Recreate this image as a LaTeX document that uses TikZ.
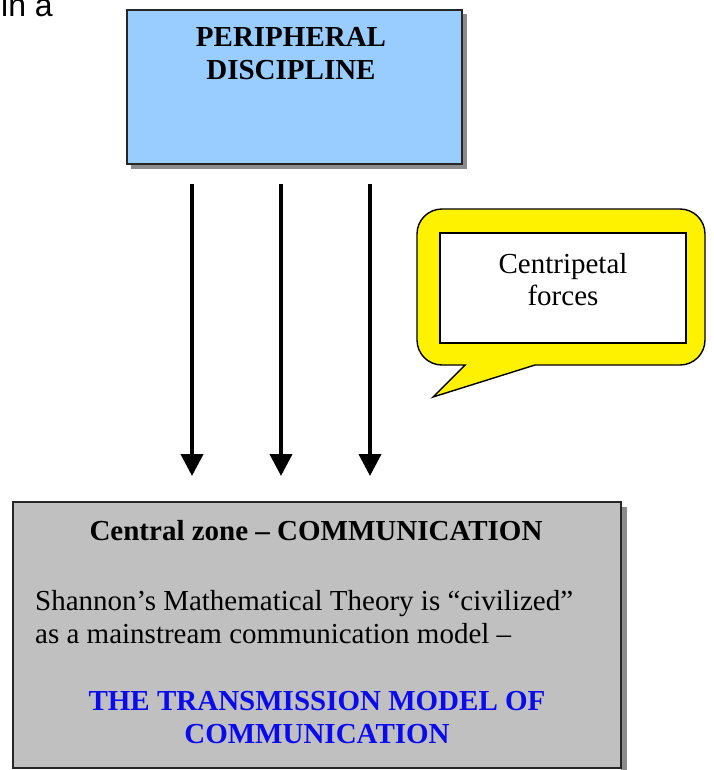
\documentclass[tikz,border=0pt]{standalone}
\usepackage{fontspec}
\setmainfont{Liberation Serif}
\newfontfamily\labelsans{Liberation Sans}
\usetikzlibrary{arrows.meta}

\definecolor{periphblue}{HTML}{99CCFF}
\definecolor{zonegray}{HTML}{C0C0C0}
\definecolor{shadegray}{HTML}{8C8C8C}
\definecolor{modelblue}{HTML}{0A0AF0}

\begin{document}
\begin{tikzpicture}[x=1pt,y=1pt,
  panel/.style={draw=black!85, line width=1.8pt, inner sep=0pt},
  shade/.style={fill=shadegray, draw=none},
  line/.style={anchor=base, inner sep=0pt, font=\fontsize{29}{34}\selectfont},
  boldline/.style={line, font=\fontsize{29}{34}\selectfont\bfseries},
  force/.style={line width=4pt, -{Triangle[width=22pt,length=22pt]}},
  bubble/.style={fill=yellow, draw=black, line width=1.4pt}]
\useasboundingbox (0,0) rectangle (713,-770);

% partial caption at the top left
\node[anchor=base west, inner sep=0pt, font=\labelsans\fontsize{32}{36}\selectfont] (cap) at (1,-17) {in a};

% peripheral discipline box
\fill[shade] (131,-14) rectangle (467,-169);
\node[panel, fill=periphblue, minimum width=335pt, minimum height=154pt] (periph) at (294.5,-87) {};
\node[boldline] (periphA) at (291,-47) {PERIPHERAL};
\node[boldline] (periphB) at (291,-80) {DISCIPLINE};

% centripetal arrows
\coordinate (f1s) at (192,-184);
\coordinate (f2s) at (281,-184);
\coordinate (f3s) at (370,-184);
\coordinate (f1e) at (192,-476);
\coordinate (f2e) at (281,-476);
\coordinate (f3e) at (370,-476);
\draw[force] (f1s) -- (f1e);
\draw[force] (f2s) -- (f2e);
\draw[force] (f3s) -- (f3e);

% speech bubble
\draw[bubble] (465,-365) -- (442,-365)
  arc[start angle=270, end angle=180, radius=25pt] -- (417,-234)
  arc[start angle=180, end angle=90, radius=25pt] -- (680,-209)
  arc[start angle=90, end angle=0, radius=25pt] -- (705,-340)
  arc[start angle=0, end angle=-90, radius=25pt] -- (535,-365)
  -- (433,-397) -- cycle;
\node[draw=black, line width=1.8pt, fill=white, minimum width=246pt, minimum height=110pt, inner sep=0pt] (forcebox) at (563,-288) {};
\node[line] (forceA) at (563,-273) {Centripetal};
\node[line] (forceB) at (563,-305) {forces};

% central zone box
\fill[shade] (621,-507) rectangle (627,-770);
\node[panel, fill=zonegray, minimum width=608pt, minimum height=266pt] (zone) at (317,-635) {};
\node[boldline] (zoneT) at (316,-540) {Central zone – COMMUNICATION};
\node[line, anchor=base west] (zoneA) at (35,-610) {Shannon’s Mathematical Theory is “civilized”};
\node[line, anchor=base west] (zoneB) at (35,-643) {as a mainstream communication model –};
\node[boldline, text=modelblue] (modelA) at (317,-710) {THE TRANSMISSION MODEL OF};
\node[boldline, text=modelblue] (modelB) at (317,-743) {COMMUNICATION};
\end{tikzpicture}
\end{document}
